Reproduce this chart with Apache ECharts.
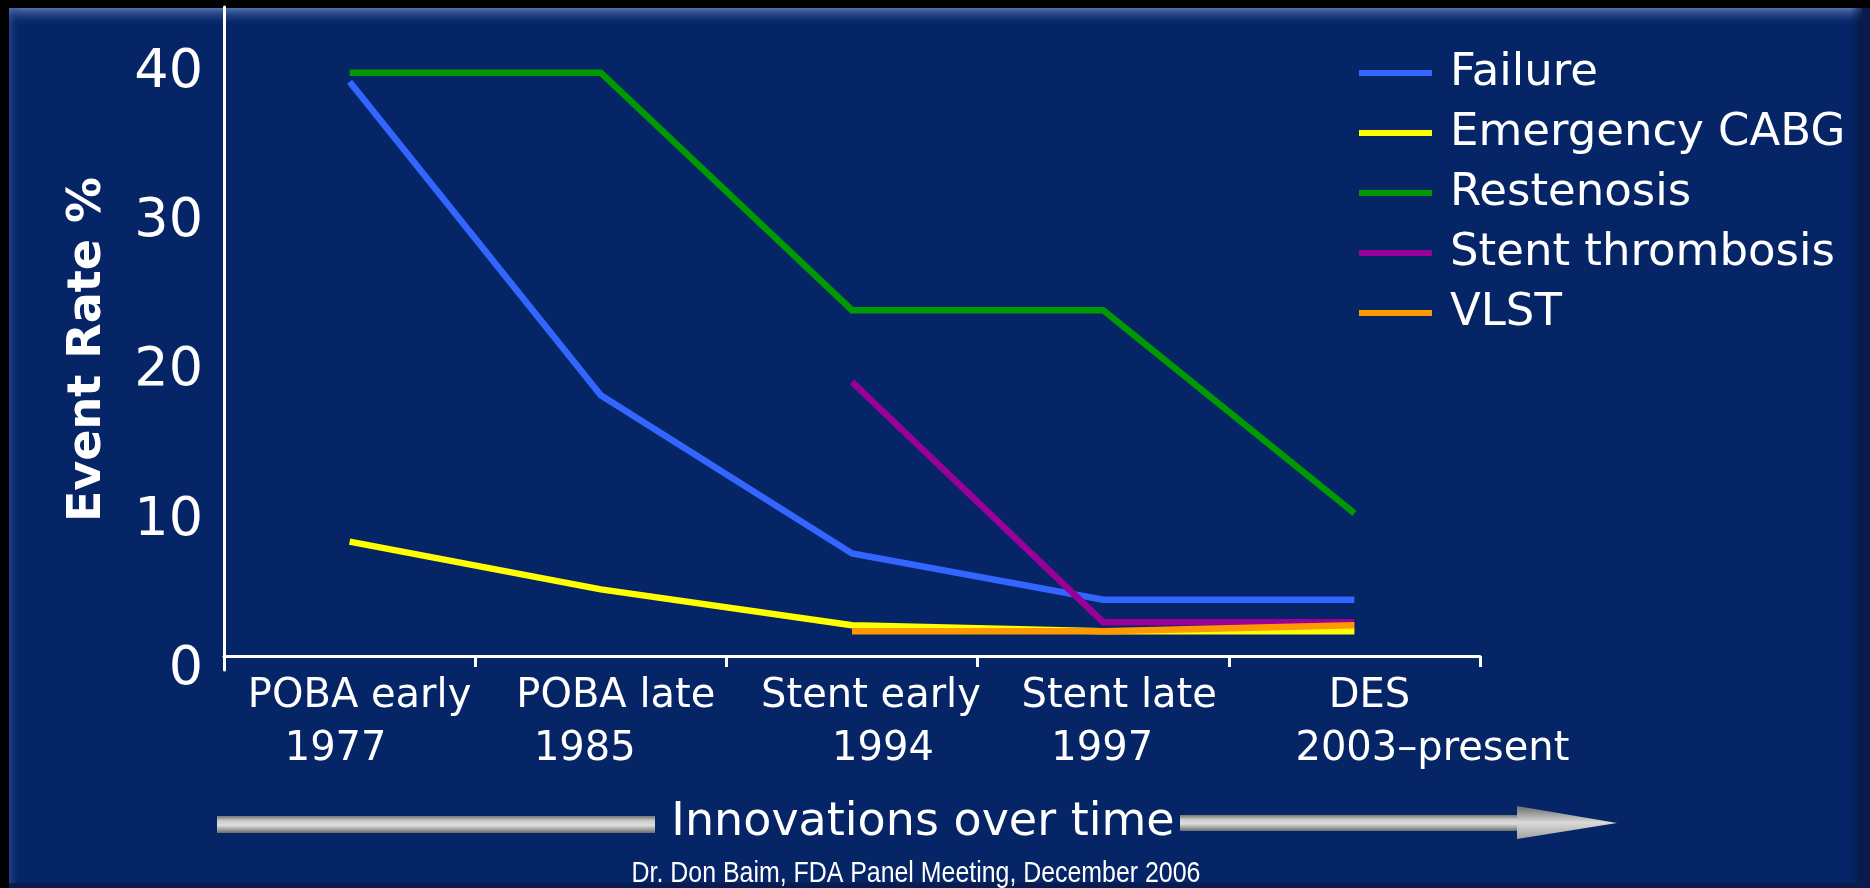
<!DOCTYPE html>
<html>
<head>
<meta charset="utf-8">
<title>Event Rate % – Innovations over time</title>
<script src="https://cdn.jsdelivr.net/npm/echarts@6/dist/echarts.min.js"></script>
<style>
  html, body { margin: 0; padding: 0; background: #000; }
  #chart { width: 1870px; height: 888px; }
</style>
</head>
<body>
<div id="chart"></div>
<script>
// Eras of coronary intervention and their start years
const categories = ['POBA early', 'POBA late', 'Stent early', 'Stent late', 'DES'];
const periods = ['1977', '1985', '1994', '1997', '2003–present'];

// Event rates (%) per era
const seriesNames = ['Failure', 'Emergency CABG', 'Restenosis', 'Stent thrombosis', 'VLST'];
const failure = [39.4, 18.4, 7.8, 4.7, 4.7];
const emergencyCabg = [8.6, 5.4, 3.0, 2.6, 2.6];
const restenosis = [40, 40, 24.1, 24.1, 10.5];
const stentThrombosis = [null, null, 19.3, 3.2, 3.2];
const vlst = [null, null, 2.6, 2.6, 3.0];

// Value-axis tick labels
const yTicks = [0, 10, 20, 30, 40];

const seriesValues = [failure, emergencyCabg, restenosis, stentThrombosis, vlst];
const seriesColors = ['#3366FF', '#FFFF00', '#009900', '#990099', '#FF9900'];

const FONT = "'DejaVu Sans', Verdana, sans-serif";

// horizontal nudges (px) of the two lines of each category label
const labelNudge = [[10, -14], [15, -16], [19, 31], [16, -1], [15, 78]];
const labelRich = {};
labelNudge.forEach((pair, i) => {
  pair.forEach((dx, j) => {
    labelRich['l' + i + j] = {
      color: '#fff', fontFamily: FONT, fontSize: 40, lineHeight: 53,
      padding: dx >= 0 ? [0, 0, 0, 2 * dx] : [0, -2 * dx, 0, 0]
    };
  });
});

const barGradient = () => new echarts.graphic.LinearGradient(0, 0, 0, 1, [
  { offset: 0, color: '#767676' },
  { offset: 0.3, color: '#cfcfcf' },
  { offset: 0.55, color: '#dddddd' },
  { offset: 1, color: '#6c6c6c' }
]);

const chart = echarts.init(document.getElementById('chart'), null, { renderer: 'canvas' });

chart.setOption({
  backgroundColor: '#000',
  animation: false,
  grid: { left: 224, top: 7, width: 1256, height: 663, containLabel: false },
  legend: {
    orient: 'vertical',
    left: 1354,
    top: 41,
    icon: 'rect',
    itemWidth: 73,
    itemHeight: 6,
    itemGap: 6,
    data: seriesNames,
    textStyle: { color: '#fff', fontFamily: FONT, fontSize: 45, lineHeight: 54, padding: [0, 0, 0, 13] }
  },
  xAxis: {
    type: 'category',
    data: categories,
    boundaryGap: true,
    offset: -14,
    axisLine: { onZero: false, lineStyle: { color: '#fff', width: 3 } },
    axisTick: { show: true, length: 11, lineStyle: { color: '#fff', width: 3 } },
    splitLine: { show: false },
    axisLabel: {
      interval: 0,
      margin: 14,
      formatter: (v, i) => `{l${i}0|${v}}\n{l${i}1|${periods[i]}}`,
      rich: labelRich
    }
  },
  yAxis: {
    type: 'value',
    min: 0,
    max: 44.4,
    interval: 10,
    axisLine: { show: true, lineStyle: { color: '#fff', width: 3 } },
    axisTick: { show: false },
    splitLine: { show: false },
    axisLabel: {
      color: '#fff', fontFamily: FONT, fontSize: 54, margin: 21,
      showMaxLabel: false,
      formatter: v => (yTicks.includes(v) ? String(v) : '')
    },
    name: 'Event Rate %',
    nameLocation: 'middle',
    nameGap: 113,
    nameTextStyle: { color: '#fff', fontFamily: FONT, fontSize: 46, fontWeight: 'bold', padding: [0, 22, 0, 0] }
  },
  series: seriesNames.map((name, i) => ({
    name,
    type: 'line',
    data: seriesValues[i],
    symbol: 'none',
    connectNulls: false,
    lineStyle: { width: 6.5, color: seriesColors[i], cap: 'butt', join: 'miter' },
    itemStyle: { color: seriesColors[i] },
    emphasis: { disabled: true }
  })),
  graphic: [
    // slide panel with a bevelled edge
    { type: 'rect', silent: true, z: -10, shape: { x: 9, y: 8, width: 1861, height: 880 }, style: { fill: '#0a1c4c' } },
    { type: 'rect', silent: true, z: -9, shape: { x: 9, y: 8, width: 1853, height: 875 }, style: { fill: '#062567' } },
    {
      type: 'rect', silent: true, z: -8, shape: { x: 9, y: 8, width: 1853, height: 18 },
      style: { fill: new echarts.graphic.LinearGradient(0, 0, 0, 1, [
        { offset: 0, color: 'rgba(110,140,200,0.75)' },
        { offset: 1, color: 'rgba(6,37,103,0)' }
      ]) }
    },
    {
      type: 'rect', silent: true, z: -8, shape: { x: 9, y: 8, width: 12, height: 875 },
      style: { fill: new echarts.graphic.LinearGradient(0, 0, 1, 0, [
        { offset: 0, color: 'rgba(70,100,170,0.45)' },
        { offset: 1, color: 'rgba(6,37,103,0)' }
      ]) }
    },
    {
      type: 'rect', silent: true, z: -8, shape: { x: 1850, y: 8, width: 12, height: 875 },
      style: { fill: new echarts.graphic.LinearGradient(0, 0, 1, 0, [
        { offset: 0, color: 'rgba(3,20,60,0)' },
        { offset: 1, color: 'rgba(3,20,60,0.7)' }
      ]) }
    },
    // "Innovations over time" arrow
    { type: 'rect', silent: true, z: 5, shape: { x: 217, y: 816, width: 438, height: 17 }, style: { fill: barGradient() } },
    { type: 'rect', silent: true, z: 5, shape: { x: 1180, y: 815, width: 338, height: 16 }, style: { fill: barGradient() } },
    {
      type: 'polygon', silent: true, z: 5,
      shape: { points: [[1517, 806], [1617, 823], [1517, 839]] },
      style: { fill: new echarts.graphic.LinearGradient(0, 0, 0, 1, [
        { offset: 0, color: '#6a6a6a' },
        { offset: 0.5, color: '#dadada' },
        { offset: 1, color: '#a0a0a0' }
      ]) }
    },
    {
      type: 'text', silent: true, z: 5,
      style: {
        text: 'Innovations over time', x: 923, y: 823,
        fill: '#fff', fontFamily: FONT, fontSize: 46, align: 'center', verticalAlign: 'middle'
      }
    },
    {
      // condensed source line
      type: 'text', silent: true, z: 5,
      x: 916, y: 874, scaleX: 0.83,
      style: {
        text: 'Dr. Don Baim, FDA Panel Meeting, December 2006', x: 0, y: 0,
        fill: '#fff', fontFamily: "'Liberation Sans', Arial, sans-serif",
        fontSize: 30, align: 'center', verticalAlign: 'middle'
      }
    }
  ]
});
</script>
</body>
</html>
